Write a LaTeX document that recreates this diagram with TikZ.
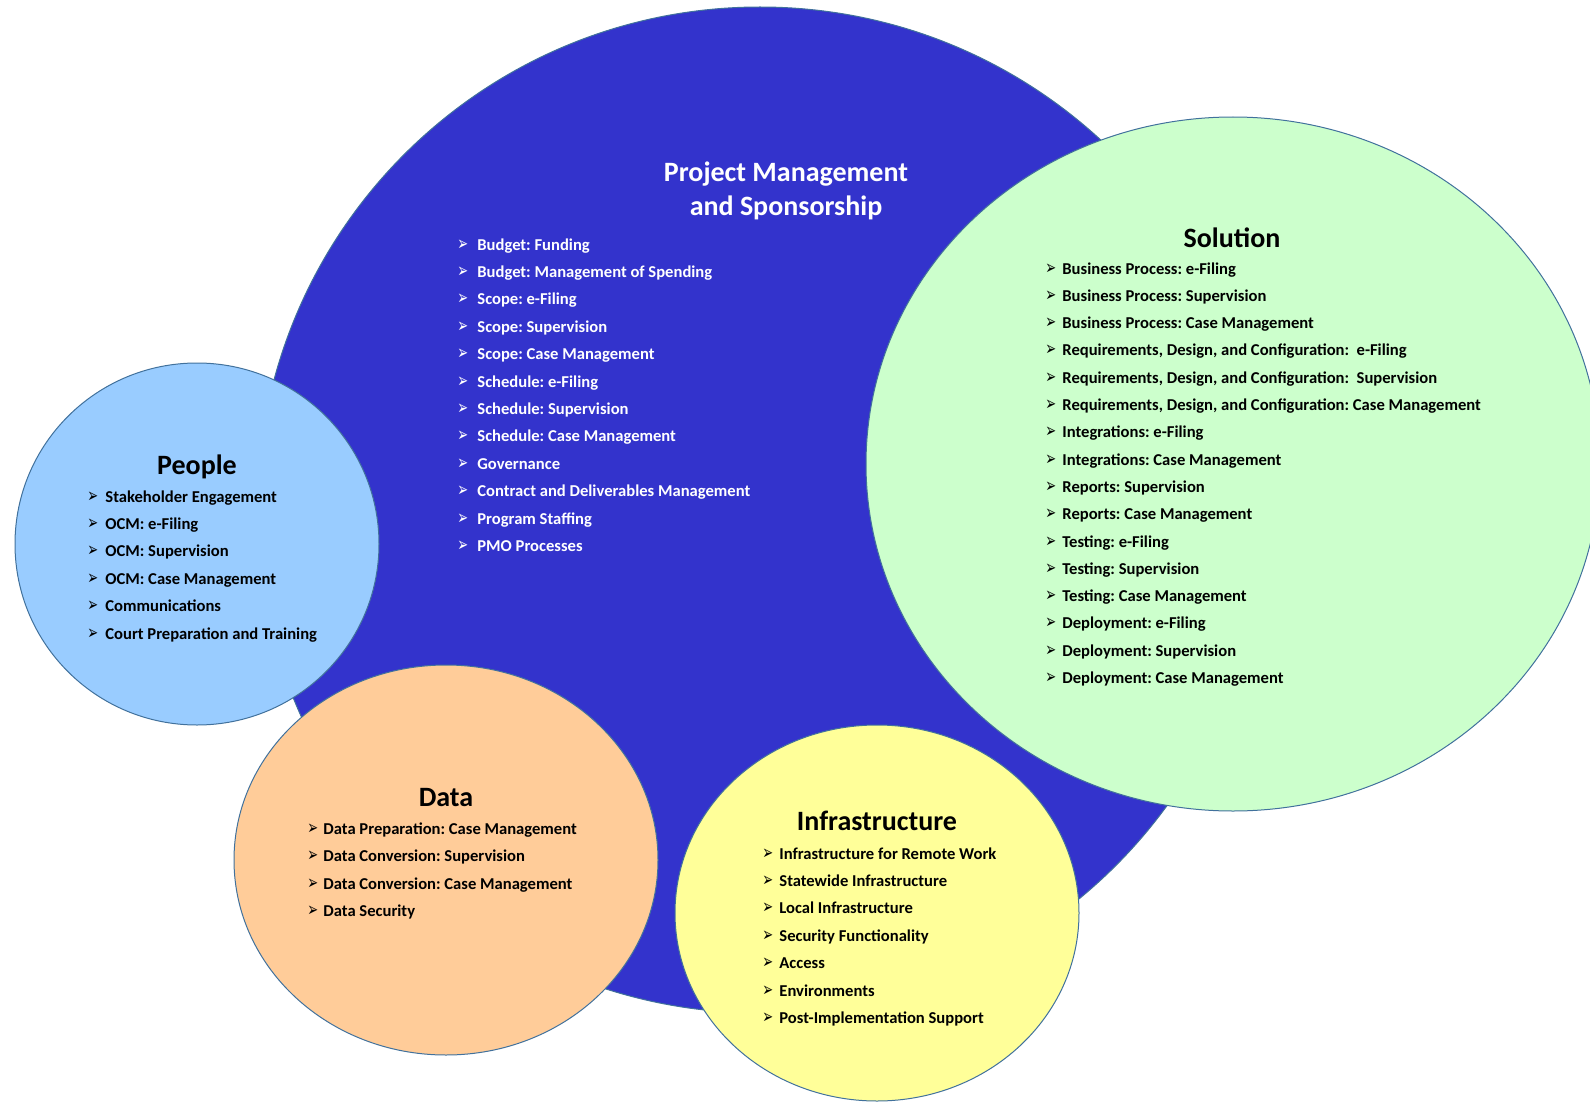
\documentclass[tikz,border=0pt]{standalone}
\usepackage{fontspec}
\setmainfont{Carlito}
\newfontfamily\bulletfont{DejaVu Sans}
\usetikzlibrary{shapes.geometric}

\definecolor{pmblue}{HTML}{3333CC}
\definecolor{peopleblue}{HTML}{99CCFF}
\definecolor{dataorange}{HTML}{FFCC99}
\definecolor{infrayellow}{HTML}{FFFF99}
\definecolor{solgreen}{HTML}{CCFFCC}
\definecolor{edgeblue}{HTML}{41719C}

\newcommand{\arrowbullet}[1]{\makebox[#1][l]{\scalebox{0.72}[1.1]{\bulletfont\fontsize{9}{9}\selectfont\char"27A2}}}

\begin{document}
\frenchspacing
\begin{tikzpicture}[x=0.5pt, y=-0.5pt]

    % Define styles
    \tikzstyle{blob} = [draw=edgeblue, line width=0.5pt, ellipse, inner sep=0pt]
    \tikzstyle{title} = [font=\bfseries\fontsize{14}{16}\selectfont, anchor=base, inner sep=0pt]
    \tikzstyle{item} = [font=\bfseries\fontsize{8.3}{10}\selectfont, anchor=base west, inner sep=0pt]

    \useasboundingbox (0,0) rectangle (1590,1102);

    % CIRCLES
    \node (pm_circle) [blob, fill=pmblue, minimum width=503pt, minimum height=503pt] at (760,510) {};
    \node (people_circle) [blob, fill=peopleblue, minimum width=182pt, minimum height=181pt] at (197,544) {};
    \node (data_circle) [blob, fill=dataorange, minimum width=212pt, minimum height=195pt] at (446,860) {};
    \node (infra_circle) [blob, fill=infrayellow, minimum width=202pt, minimum height=188pt] at (877,913) {};
    \node (sol_circle) [blob, fill=solgreen, minimum width=367pt, minimum height=347pt] at (1233,464) {};

    % PROJECT MANAGEMENT
    \node (pm_title) [title, text=white] at (786,182) {Project Management};
    \node (pm_subtitle) [title, text=white] at (786,215) {and Sponsorship};
    \foreach \txt [count=\i from 0] in {Budget: Funding, Budget: Management of Spending,
        Scope: e-Filing, Scope: Supervision, Scope: Case Management, Schedule: e-Filing,
        Schedule: Supervision, Schedule: Case Management, Governance,
        Contract and Deliverables Management, Program Staffing, PMO Processes}
        \node (pm_item\i) [item, text=white] at (457,250+27.4*\i) {\arrowbullet{10pt}\txt};

    % SOLUTION
    \node (sol_title) [title] at (1232,247) {Solution};
    \foreach \txt [count=\i from 0] in {Business Process: e-Filing, Business Process: Supervision,
        Business Process: Case Management,
        {Requirements, Design, and Configuration:\ \ e-Filing},
        {Requirements, Design, and Configuration:\ \ Supervision},
        {Requirements, Design, and Configuration: Case Management},
        Integrations: e-Filing, Integrations: Case Management, Reports: Supervision,
        Reports: Case Management, Testing: e-Filing, Testing: Supervision,
        Testing: Case Management, Deployment: e-Filing, Deployment: Supervision,
        Deployment: Case Management}
        \node (sol_item\i) [item] at (1045,274+27.3*\i) {\arrowbullet{8.5pt}\txt};

    % PEOPLE
    \node (people_title) [title] at (197,474) {People};
    \foreach \txt [count=\i from 0] in {Stakeholder Engagement, OCM: e-Filing, OCM: Supervision,
        OCM: Case Management, Communications, Court Preparation and Training}
        \node (people_item\i) [item] at (87,502+27.4*\i) {\arrowbullet{9pt}\txt};

    % DATA
    \node (data_title) [title] at (446,806) {Data};
    \foreach \txt [count=\i from 0] in {Data Preparation: Case Management, Data Conversion: Supervision,
        Data Conversion: Case Management, Data Security}
        \node (data_item\i) [item] at (307,834+27.6*\i) {\arrowbullet{8pt}\txt};

    % INFRASTRUCTURE
    \node (infra_title) [title] at (877,830) {Infrastructure};
    \foreach \txt [count=\i from 0] in {Infrastructure for Remote Work, Statewide Infrastructure,
        Local Infrastructure, Security Functionality, Access, Environments,
        Post-Implementation Support}
        \node (infra_item\i) [item] at (762,859+27.4*\i) {\arrowbullet{8.5pt}\txt};

\end{tikzpicture}
\end{document}
